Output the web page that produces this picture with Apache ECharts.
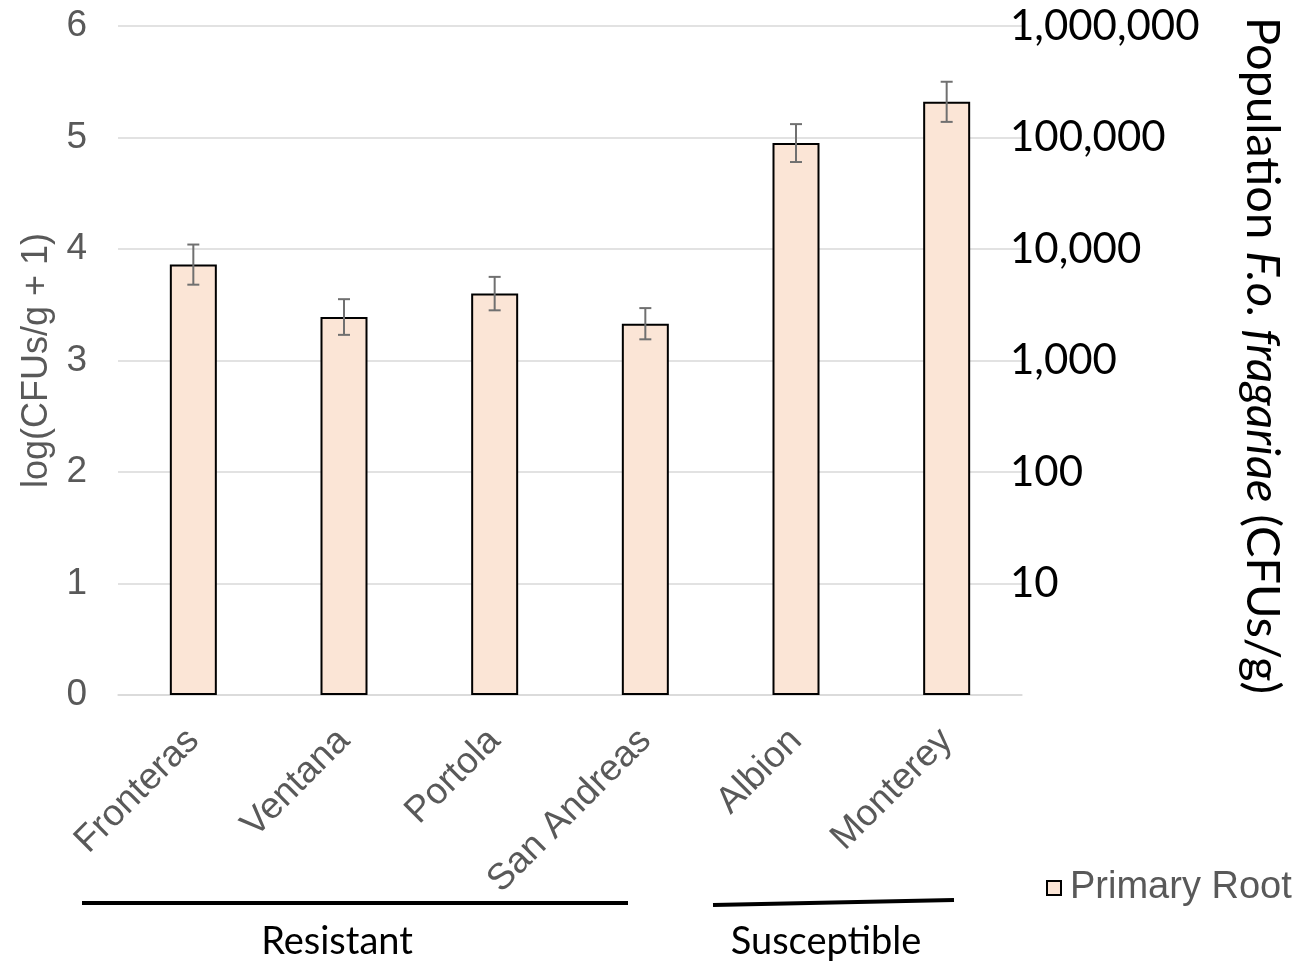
<!DOCTYPE html>
<html>
<head>
<meta charset="utf-8">
<script src="https://cdn.jsdelivr.net/npm/echarts@6/dist/echarts.min.js"></script>
<style>
  html, body { margin: 0; padding: 0; background: #fff; }
  #chart { width: 1309px; height: 963px; }
</style>
</head>
<body>
<div id="chart"></div>
<script>
// Cultivars and their root colonisation, log(CFUs/g + 1)
const cultivars = ['Fronteras', 'Ventana', 'Portola', 'San Andreas', 'Albion', 'Monterey'];
const logCfu = [3.86, 3.39, 3.60, 3.33, 4.95, 5.32];
const stdErr = [0.18, 0.16, 0.15, 0.14, 0.17, 0.18];

// Left-axis ticks and the matching raw population labels on the right axis
const leftTicks = [0, 1, 2, 3, 4, 5, 6];
const rightTickLabels = ['', '10', '100', '1,000', '10,000', '100,000', '1,000,000'];

const seriesName = 'Primary Root';
const groups = ['Resistant', 'Susceptible'];

const chart = echarts.init(document.getElementById('chart'), null, { renderer: 'canvas' });

const grayText = '#595959';
const armFont = '"Liberation Sans", Arial, sans-serif';
const caliFont = 'Lato, "Open Sans", sans-serif';

const errData = logCfu.map((v, i) => [i, v - stdErr[i], v + stdErr[i]]);

const option = {
  animation: false,
  backgroundColor: '#ffffff',
  grid: { left: 118, right: 287, top: 26, bottom: 268, containLabel: false },
  legend: {
    data: [{ name: seriesName, icon: 'rect' }],
    left: 1041,
    top: 864,
    itemWidth: 14,
    itemHeight: 14,
    itemGap: 6,
    itemStyle: { color: '#fbe5d6', borderColor: '#000', borderWidth: 2 },
    textStyle: { color: grayText, fontSize: 38, fontFamily: armFont, padding: [0, 0, 0, 4] }
  },
  xAxis: {
    type: 'category',
    data: cultivars,
    axisLine: { show: true, lineStyle: { color: '#d9d9d9', width: 1.5 } },
    axisTick: { show: false },
    axisLabel: {
      rotate: 45,
      margin: 40,
      color: grayText,
      fontSize: 37,
      fontFamily: armFont,
      interval: 0
    }
  },
  yAxis: [
    {
      type: 'value',
      min: leftTicks[0],
      max: leftTicks[leftTicks.length - 1],
      interval: 1,
      name: 'log(CFUs/g + 1)',
      nameLocation: 'middle',
      nameGap: 60,
      nameTextStyle: { color: grayText, fontSize: 36, fontFamily: armFont },
      axisLine: { show: false },
      axisTick: { show: false },
      splitLine: { show: true, lineStyle: { color: '#d9d9d9', width: 1.5 } },
      axisLabel: { color: grayText, fontSize: 37, fontFamily: armFont, margin: 31 }
    },
    {
      type: 'value',
      position: 'right',
      min: leftTicks[0],
      max: leftTicks[leftTicks.length - 1],
      interval: 1,
      axisLine: { show: false },
      axisTick: { show: false },
      splitLine: { show: false },
      axisLabel: {
        color: '#000',
        fontSize: 42,
        fontFamily: caliFont,
        margin: -12,
        formatter: (v) => rightTickLabels[leftTicks.indexOf(v)] || ''
      }
    }
  ],
  series: [
    {
      name: seriesName,
      type: 'bar',
      data: logCfu,
      barWidth: 47,
      itemStyle: { color: '#fbe5d6', borderColor: '#000', borderWidth: 2 }
    },
    {
      name: 'error',
      type: 'custom',
      data: errData,
      z: 5,
      renderItem: function (params, api) {
        const i = api.value(0);
        const lo = api.coord([i, api.value(1)]);
        const hi = api.coord([i, api.value(2)]);
        const cap = 6;
        const st = { stroke: '#707070', lineWidth: 2 };
        return {
          type: 'group',
          children: [
            { type: 'line', shape: { x1: lo[0], y1: lo[1], x2: hi[0], y2: hi[1] }, style: st },
            { type: 'line', shape: { x1: hi[0] - cap, y1: hi[1], x2: hi[0] + cap, y2: hi[1] }, style: st },
            { type: 'line', shape: { x1: lo[0] - cap, y1: lo[1], x2: lo[0] + cap, y2: lo[1] }, style: st }
          ]
        };
      }
    }
  ],
  graphic: [
    // right-hand axis title, read top to bottom
    {
      type: 'text',
      x: 1262,
      y: 17,
      rotation: -Math.PI / 2,
      style: {
        text: '{n|Population }{i|F.o. fragariae}{n| (CFUs/g)}',
        textVerticalAlign: 'middle',
        textAlign: 'left',
        rich: {
          n: { fontSize: 47, fontFamily: caliFont, fill: '#000' },
          i: { fontSize: 47, fontFamily: caliFont, fontStyle: 'italic', fill: '#000' }
        }
      }
    },
    // cultivar group brackets
    { type: 'line', shape: { x1: 82, y1: 903, x2: 628, y2: 903 }, style: { stroke: '#000', lineWidth: 4 } },
    { type: 'line', shape: { x1: 713, y1: 905, x2: 954, y2: 900 }, style: { stroke: '#000', lineWidth: 4 } },
    {
      type: 'text', x: 337, y: 942,
      style: { text: groups[0], fontSize: 38, fontFamily: caliFont, fill: '#000', textAlign: 'center', textVerticalAlign: 'middle' }
    },
    {
      type: 'text', x: 826, y: 942,
      style: { text: groups[1], fontSize: 38, fontFamily: caliFont, fill: '#000', textAlign: 'center', textVerticalAlign: 'middle' }
    }
  ]
};

chart.setOption(option);
</script>
</body>
</html>
